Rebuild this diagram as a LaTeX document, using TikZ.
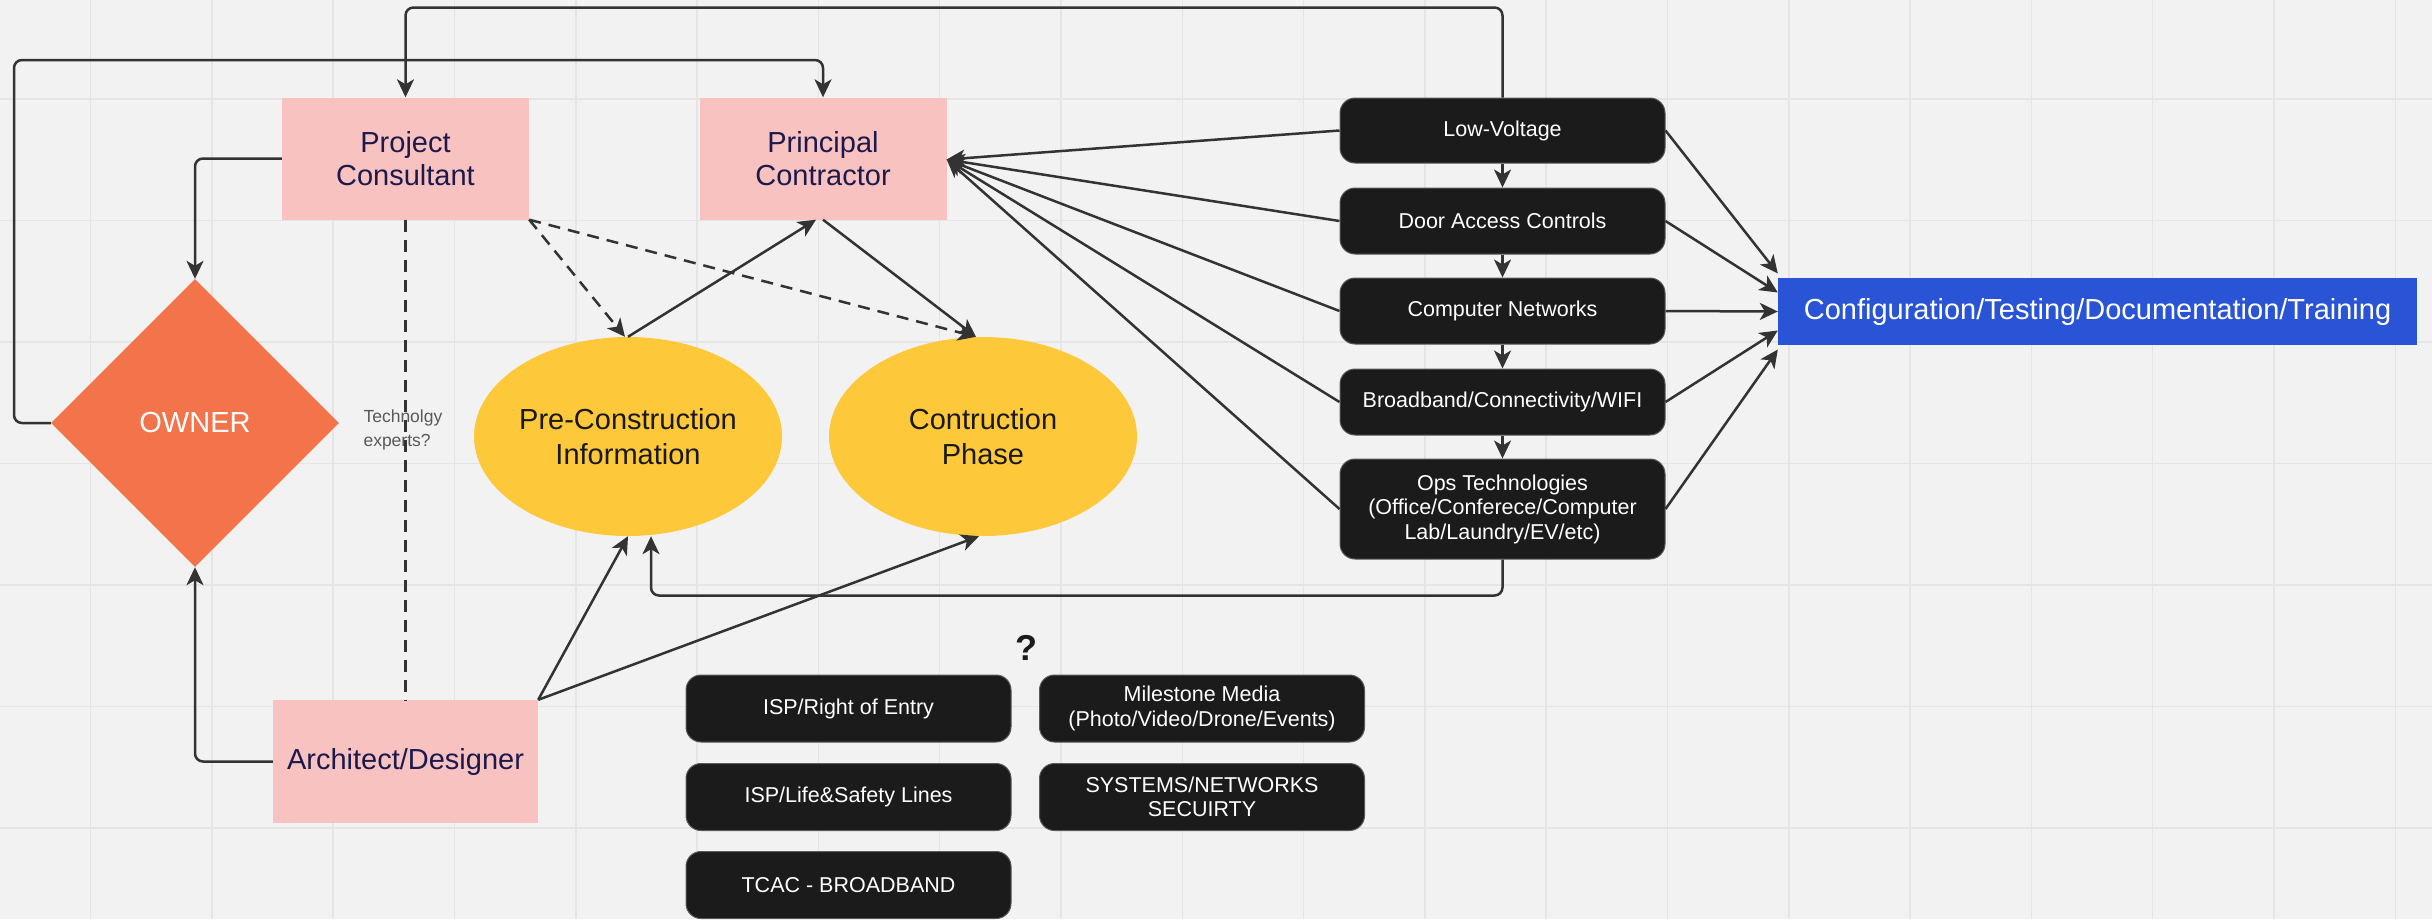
\documentclass[tikz,border=0pt]{standalone}
\usepackage{fontspec}
\setmainfont{Liberation Sans}
\usetikzlibrary{arrows.meta}
\usetikzlibrary{shapes.geometric}
\usepackage{color}
\definecolor{canvas}{HTML}{F2F2F2}
\definecolor{gridc}{HTML}{E5E5E5}
\definecolor{pinkc}{HTML}{F8C2C1}
\definecolor{navyc}{HTML}{1C1A4C}
\definecolor{orangec}{HTML}{F3734A}
\definecolor{yellowc}{HTML}{FDC83A}
\definecolor{blackc}{HTML}{1B1B1B}
\definecolor{bluec}{HTML}{2954D5}
\definecolor{linec}{HTML}{333333}

\begin{document}
\begin{tikzpicture}[x=1pt,y=-1pt,
	role/.style={rectangle,fill=pinkc,text=navyc,align=center,inner sep=0pt,minimum width=247pt,minimum height=122pt,font=\fontsize{29}{33}\selectfont},
	phase/.style={ellipse,fill=yellowc,text=black!90,align=center,inner sep=0pt,minimum width=308pt,minimum height=199pt,font=\fontsize{29}{34.5}\selectfont},
	techbox/.style={rectangle,rounded corners=15pt,fill=blackc,draw=black!65,line width=1pt,text=white,align=center,inner sep=0pt,minimum width=325pt,minimum height=66pt,font=\fontsize{21.5}{24.5}\selectfont},
	conn/.style={draw=linec,line width=2.5pt,rounded corners=8pt,-{Stealth[length=18pt,width=17pt,inset=5pt]}},
	dashconn/.style={conn,dash pattern=on 12pt off 8pt},
	]
	%% canvas
	\useasboundingbox (0,0) rectangle (2432,919);
	\fill[canvas] (0,0) rectangle (2432,919);
	\foreach \k in {0,...,19} \draw[gridc,line width=1.5pt] (90.6+121.3*\k,0) -- (90.6+121.3*\k,919);
	\foreach \k in {0,...,6} \draw[gridc,line width=1.5pt] (0,99+121.5*\k) -- (2432,99+121.5*\k);
	%% people
	\node[role] (pc) at (405.5,158.5) {Project\\Consultant};
	\node[role] (prc) at (823,158.5) {Principal\\Contractor};
	\node[role,minimum width=265pt,minimum height=123pt] (arch) at (405.5,761.5) {Architect/Designer};
	\node[diamond,fill=orangec,text=white,inner sep=0pt,minimum width=288pt,minimum height=288pt,font=\fontsize{29}{33}\selectfont] (owner) at (195,423) {OWNER};
	\node[anchor=west,align=left,text=black!65,font=\fontsize{17.5}{24.5}\selectfont] (tech) at (360,430) {Technolgy\\experts?};
	%% phases
	\node[phase] (pre) at (628,436.5) {Pre-Construction\\Information};
	\node[phase] (con) at (983,436.5) {Contruction\\Phase};
	%% technology stack
	\node[techbox,minimum height=65pt] (lv) at (1502.5,130.5) {Low-Voltage};
	\node[techbox] (dac) at (1502.5,221) {Door Access Controls};
	\node[techbox] (cn) at (1502.5,311) {Computer Networks};
	\node[techbox] (bb) at (1502.5,402) {Broadband/Connectivity/WIFI};
	\node[techbox,minimum height=100pt] (ops) at (1502.5,509) {Ops Technologies\\(Office/Conferece/Computer\\Lab/Laundry/EV/etc)};
	\node[rectangle,fill=bluec,text=white,inner sep=0pt,minimum width=639pt,minimum height=67pt,font=\fontsize{29}{33}\selectfont] (cfg) at (2097.5,311.5) {Configuration/Testing/Documentation/Training};
	%% open items
	\node[font=\bfseries\fontsize{36}{40}\selectfont,text=blackc] (q) at (1026,648) {?};
	\node[techbox,minimum height=67pt] (isp) at (848.5,708.5) {ISP/Right of Entry};
	\node[techbox,minimum height=67pt] (life) at (848.5,797) {ISP/Life\&Safety Lines};
	\node[techbox,minimum height=67pt] (tcac) at (848.5,885) {TCAC - BROADBAND};
	\node[techbox,minimum height=67pt] (media) at (1202,708.5) {Milestone Media\\(Photo/Video/Drone/Events)};
	\node[techbox,minimum height=67pt] (sec) at (1202,797) {SYSTEMS/NETWORKS\\SECUIRTY};
	%% loops
	\draw[conn] (owner.west) -| (14,60) -| (prc.north);
	\draw[conn] (lv.north) -- ++(0,-90) -| (pc.north);
	\draw[conn] (pc.west) -| (owner.north);
	\draw[conn] (arch.west) -| (owner.south);
	\draw[conn] (ops.south) -- ++(0,36) -| ([xshift=23pt]pre.south);
	%% links
	\draw[draw=linec,line width=2.5pt,dash pattern=on 12pt off 8pt] (pc.south) -- (arch.north);
	\draw[dashconn] (pc.south east) -- ([xshift=-3pt]pre.north);
	\draw[dashconn] (pc.south east) -- ([xshift=-7pt]con.north);
	\draw[conn] (pre.north) -- ([xshift=-7pt]prc.south);
	\draw[conn] (prc.south) -- ([xshift=-7pt]con.north);
	\draw[conn] (arch.north east) -- (pre.south);
	\draw[conn] (arch.north east) -- ([xshift=-4pt]con.south);
	\foreach \n in {lv,dac,cn,bb,ops} \draw[conn] (\n.west) -- ([yshift=-1pt]prc.east);
	\foreach \a/\b in {lv/dac,dac/cn,cn/bb,bb/ops} \draw[conn] (\a.south) -- (\b.north);
	\foreach \n/\s in {lv/38,dac/19,cn/0,bb/-19,ops/-38} \draw[conn] (\n.east) -- ([yshift=\s pt]cfg.west);
\end{tikzpicture}
\end{document}
